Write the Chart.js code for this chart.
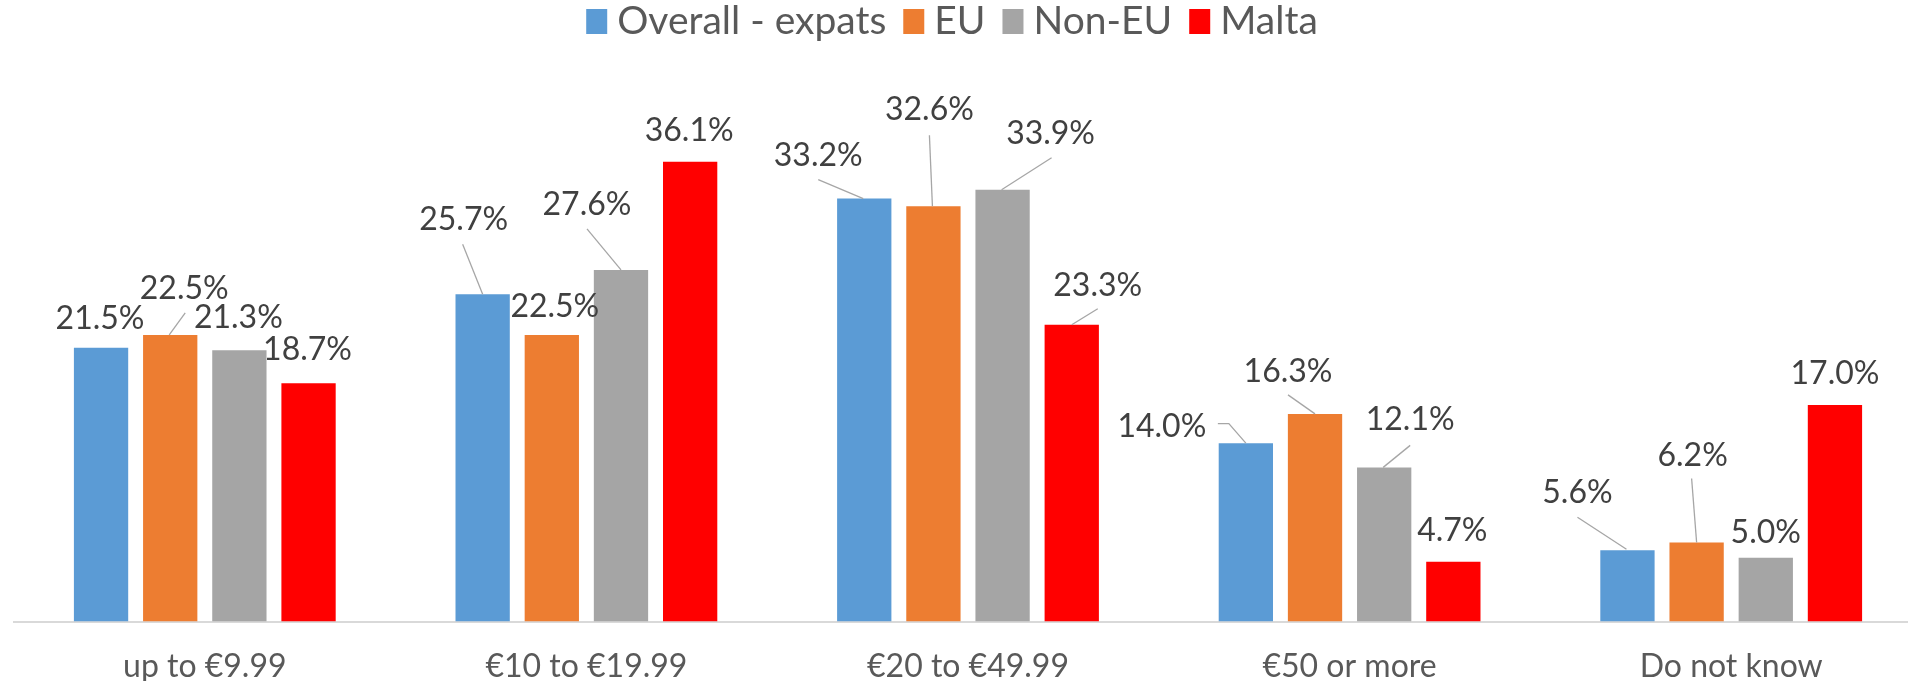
<!DOCTYPE html>
<html>
<head>
<meta charset="utf-8">
<script src="https://cdn.jsdelivr.net/npm/chart.js@4.4.1/dist/chart.umd.min.js"></script>
<style>
  html, body { margin: 0; padding: 0; background: #fff; overflow: hidden; }
  #wrap { position: relative; width: 1922px; height: 681px; }
</style>
</head>
<body>
<div id="wrap"><canvas id="chart" width="1922" height="681"></canvas></div>
<script>
const categories = ['up to €9.99', '€10 to €19.99', '€20 to €49.99', '€50 or more', 'Do not know'];
const seriesNames = ['Overall - expats', 'EU', 'Non-EU', 'Malta'];
const overallExpats = [21.5, 25.7, 33.2, 14.0, 5.6];
const eu = [22.5, 22.5, 32.6, 16.3, 6.2];
const nonEu = [21.3, 27.6, 33.9, 12.1, 5.0];
const malta = [18.7, 36.1, 23.3, 4.7, 17.0];
const seriesColors = ['#5b9bd5', '#ed7d31', '#a5a5a5', '#ff0000'];

// where each data label sits, relative to the top centre of its bar (px)
const labelOffsets = [
  [[-1, -31], [-19, -76], [-46, -45], [-84, -18], [-50, -59]],
  [[14, -48], [3, -30], [-4, -98], [-27, -44], [-4, -89]],
  [[-1, -34], [-34, -67], [48, -58], [26, -49], [0, -27]],
  [[-1, -35], [-1, -33], [26, -41], [-1, -33], [0, -33]]
];
// leader lines from the label down to the bar (same origin)
const leaderLines = [
  [null, [[-20, -50], [0, 0]], [[-46, -19], [-1, 0]], [[-28, -19.5], [-17, -19.5], [0, 0]], [[-50, -33], [-1, -1]]],
  [[[15, -22], [-1, 0]], null, [[-4, -71], [-1, 0]], [[-27, -19], [0, 0]], [[-5, -64], [0, 0]]],
  [null, [[-34, -41], [0, 0]], [[49, -32], [-1, 0]], [[26, -22], [-1, 0]], null],
  [null, null, [[26, -16], [0, 0]], null, null]
];

Chart.defaults.font.family = 'Lato';

// Excel-style legend: small gap between swatch and text
const topLegend = {
  id: 'topLegend',
  afterDraw(chart) {
    const ctx = chart.ctx;
    ctx.save();
    ctx.font = '39px Lato';
    ctx.textBaseline = 'alphabetic';
    ctx.textAlign = 'left';
    const items = chart.data.datasets.map(ds => ({
      text: ds.label,
      color: ds.backgroundColor,
      w: ctx.measureText(ds.label).width
    }));
    const total = items.reduce((s, it) => s + 21 + 10 + it.w, 0) + 17 * (items.length - 1);
    let x = 952 - total / 2;
    items.forEach(it => {
      ctx.fillStyle = it.color;
      ctx.fillRect(x, 9, 21, 25);
      x += 31;
      ctx.fillStyle = '#595959';
      ctx.fillText(it.text, x, 34);
      x += it.w + 17;
    });
    ctx.restore();
  }
};

const barLabels = {
  id: 'barLabels',
  afterDatasetsDraw(chart) {
    const ctx = chart.ctx;
    ctx.save();
    ctx.font = '32px Lato';
    ctx.fillStyle = '#404040';
    ctx.textAlign = 'center';
    ctx.textBaseline = 'alphabetic';
    const capH = ctx.measureText('0').actualBoundingBoxAscent;
    chart.data.datasets.forEach((ds, i) => {
      chart.getDatasetMeta(i).data.forEach((bar, j) => {
        const line = leaderLines[i][j];
        if (line) {
          ctx.beginPath();
          line.forEach(([dx, dy], k) => {
            if (k) ctx.lineTo(bar.x + dx, bar.y + dy);
            else ctx.moveTo(bar.x + dx, bar.y + dy);
          });
          ctx.strokeStyle = '#a6a6a6';
          ctx.lineWidth = 1.3;
          ctx.stroke();
        }
        const [ox, oy] = labelOffsets[i][j];
        ctx.fillText(ds.data[j].toFixed(1) + '%', bar.x + ox, bar.y + oy + capH / 2);
      });
    });
    ctx.restore();
  }
};

new Chart(document.getElementById('chart'), {
  type: 'bar',
  data: {
    labels: categories,
    datasets: [overallExpats, eu, nonEu, malta].map((values, i) => ({
      label: seriesNames[i],
      data: values,
      backgroundColor: seriesColors[i],
      categoryPercentage: 0.725,
      barPercentage: 0.785
    }))
  },
  options: {
    responsive: false,
    animation: false,
    layout: { padding: { left: 14, right: 0, top: 112, bottom: 0 } },
    plugins: {
      legend: { display: false },
      tooltip: { enabled: false }
    },
    scales: {
      x: {
        grid: { display: false, drawTicks: false },
        border: { color: '#d9d9d9', width: 2 },
        ticks: {
          color: '#595959',
          font: { size: 32, lineHeight: 1 },
          padding: 29,
          maxRotation: 0,
          autoSkip: false
        },
        afterFit(scale) { scale.height = 59.5; }
      },
      y: { display: false, min: 0, max: 40 }
    }
  },
  plugins: [topLegend, barLabels]
});
</script>
</body>
</html>
